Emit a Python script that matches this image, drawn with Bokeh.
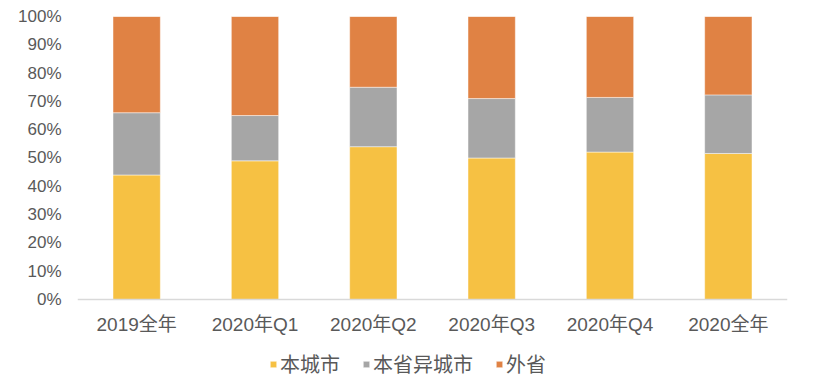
from bokeh.plotting import figure
from bokeh.models import FactorRange, NumeralTickFormatter, Legend, FixedTicker, Range1d
from bokeh.embed import file_html
from bokeh.resources import INLINE

categories = ["2019全年", "2020年Q1", "2020年Q2", "2020年Q3", "2020年Q4", "2020全年"]
series_names = ["本城市", "本省异城市", "外省"]
local_city = [0.44, 0.49, 0.54, 0.50, 0.521, 0.516]
other_city = [0.22, 0.16, 0.21, 0.21, 0.193, 0.207]
other_prov = [0.34, 0.35, 0.25, 0.29, 0.286, 0.277]
y_ticks = [0, 0.1, 0.2, 0.3, 0.4, 0.5, 0.6, 0.7, 0.8, 0.9, 1.0]
colors = ["#F6C143", "#A6A6A6", "#E08244"]

FONT = "Liberation Sans, Noto Sans CJK SC"
TXT = "#595959"

data = {"cat": categories, "a": local_city, "b": other_city, "c": other_prov}

p = figure(x_range=FactorRange(*categories, range_padding=0), y_range=Range1d(-0.2792, 1),
           width=826, height=378, output_backend="svg", toolbar_location=None,
           min_border_left=77, min_border_right=39, min_border_top=16, min_border_bottom=0)
p.x_range.factor_padding = 0

r = p.vbar_stack(["a", "b", "c"], x="cat", width=0.4, source=data, color=colors,
                 line_color="white", line_width=0.8, line_alpha=0.6)

p.xgrid.visible = False
p.ygrid.visible = False
p.outline_line_color = None

p.yaxis.ticker = FixedTicker(ticks=y_ticks)
p.yaxis.formatter = NumeralTickFormatter(format="0%")
p.yaxis.axis_line_color = None
p.yaxis.major_tick_line_color = None
p.yaxis.minor_tick_line_color = None
p.yaxis.major_tick_out = 0
p.yaxis.major_tick_in = 0
p.yaxis.major_label_standoff = 16
p.yaxis.major_label_text_font = FONT
p.yaxis.major_label_text_font_size = "17px"
p.yaxis.major_label_text_color = TXT

p.xaxis.fixed_location = 0
p.xaxis.axis_line_color = "#D9D9D9"
p.xaxis.axis_line_width = 1.5
p.xaxis.major_tick_line_color = None
p.xaxis.minor_tick_line_color = None
p.xaxis.major_tick_out = 0
p.xaxis.major_tick_in = 0
p.xaxis.major_label_standoff = 15
p.xaxis.major_label_text_font = FONT
p.xaxis.major_label_text_font_size = "19px"
p.xaxis.major_label_text_color = TXT

legend = Legend(items=[(n, [rr]) for n, rr in zip(series_names, r)],
                orientation="horizontal", location=(192, 0),
                glyph_width=8, glyph_height=8, label_text_font=FONT,
                label_text_font_size="20px", label_text_color=TXT,
                spacing=22, padding=0, margin=0, label_standoff=3,
                border_line_color=None, background_fill_alpha=0)
p.add_layout(legend, "center")

open("out.html", "w").write(file_html(p, INLINE))
